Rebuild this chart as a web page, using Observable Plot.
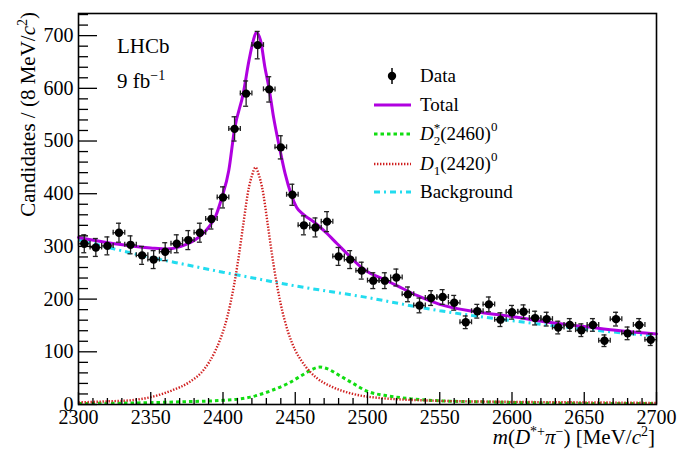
<!DOCTYPE html>
<html><head><meta charset="utf-8">
<script src="https://cdn.jsdelivr.net/npm/d3@7"></script>
<script src="https://cdn.jsdelivr.net/npm/@observablehq/plot@0.6"></script>
<style>body{margin:0;background:#fff} svg{display:block} svg text{font-family:"Liberation Serif",serif}</style>
</head><body><div id="chart"></div>
<script>
// ---- data ----
const binCenters = [2304,2312,2320,2328,2336,2344,2352,2360,2368,2376,2384,2392,2400,2408,2416,2424,2432,2440,2448,2456,2464,2472,2480,2488,2496,2504,2512,2520,2528,2536,2544,2552,2560,2568,2576,2584,2592,2600,2608,2616,2624,2632,2640,2648,2656,2664,2672,2680,2688,2696];
const counts = [305,298,301,326,303,283,275,290,305,312,326,352,393,523,590,682,598,488,398,340,336,347,281,275,254,235,235,241,209,188,202,204,193,156,177,190,161,175,176,164,162,146,151,141,151,121,162,135,151,123];
const errors = [17,17,17,18,17,17,17,17,17,18,18,19,20,23,24,26,24,22,20,18,18,19,17,17,16,15,15,16,14,14,14,14,14,12,13,14,13,13,13,13,13,12,12,12,12,11,13,12,12,11];
const binHalfWidth = 4;

const totalMass = [2300,2325,2350,2361,2371,2380,2390,2395,2399,2404,2408,2414,2418,2421,2423,2426,2429,2432,2435,2439,2443,2447,2451,2456,2464,2471,2479,2487,2495,2500,2511,2520,2535,2550,2575,2600,2625,2650,2675,2700];
const totalVal  = [317,305,297,295,300,311,336,358,391,444,523,590,653,691,706,691,640,598,545,489,438,400,374,360,344,327,305,283,262,252,238,226,206,190,176,167,156,148,140,134];

const d2Mass = [2300,2340,2370,2400,2419,2433,2445,2455,2462,2467,2472,2480,2490,2500,2515,2530,2550,2580,2620,2660,2700];
const d2Val  = [2,3,5,8,14,26,40,56,67,71,68,56,40,25,16,11,7,5,3,2,2];

const d1Mass = [2300,2320,2336,2350,2364,2377,2387,2394,2398,2401,2405,2410,2414,2418,2420,2422.5,2425,2427,2431,2435,2440,2445,2450,2455,2465,2475,2490,2510,2550,2600,2650,2700];
const d1Val  = [4,6,8,14,26,43,67,98,123,147,190,265,341,413,434,450,434,413,341,265,190,138,103,80,50,34,20,12,7,5,4,3];

const bkgMass = [2300,2325,2350,2375,2400,2425,2450,2475,2500,2525,2550,2600,2650,2700];
const bkgVal  = [313,295,279,265,251,238,225,214,203,190,178,159,143,130];

const xTickLabels = [2300,2350,2400,2450,2500,2550,2600,2650,2700];
const yTickLabels = [0,100,200,300,400,500,600,700];
const xMinor = d3.range(2300, 2701, 10).filter(v => v % 50 !== 0);
const yMinor = d3.range(0, 741, 20).filter(v => v % 100 !== 0);

const pts = binCenters.map((m,i) => ({m, n: counts[i], e: errors[i]}));
const toRows = (xs, ys) => xs.map((x,i) => ({x, y: ys[i]}));

const FONT = "Liberation Serif";
const C_TOTAL = "#b000e0", C_D2 = "#11dd11", C_D1 = "#d02020", C_BKG = "#22dcef";
const DA_D2 = "3.5,3", DA_D1 = "1.4,1.6", DA_BKG = "6,4,2,4";
const lineStyle = {curve: "monotone-x", strokeLinecap: "butt", strokeLinejoin: "miter"};

const plot = Plot.plot({
  width: 680, height: 464,
  marginLeft: 78, marginRight: 24, marginTop: 13, marginBottom: 60,
  x: {domain: [2300, 2700]},
  y: {domain: [0, 742]},
  style: {fontFamily: FONT, fontSize: "20px", color: "black", background: "white"},
  marks: [
    Plot.line(toRows(bkgMass, bkgVal), {x: "x", y: "y", stroke: C_BKG, strokeWidth: 3, strokeDasharray: DA_BKG, ...lineStyle}),
    Plot.line(toRows(d2Mass, d2Val), {x: "x", y: "y", stroke: C_D2, strokeWidth: 3, strokeDasharray: DA_D2, ...lineStyle}),
    Plot.line(toRows(d1Mass, d1Val), {x: "x", y: "y", stroke: C_D1, strokeWidth: 2.4, strokeDasharray: DA_D1, ...lineStyle}),
    Plot.line(toRows(totalMass, totalVal), {x: "x", y: "y", stroke: C_TOTAL, strokeWidth: 3, curve: "monotone-x"}),
    // error bars
    Plot.ruleX(pts, {x: "m", y1: d => d.n - d.e, y2: d => d.n + d.e, stroke: "#222", strokeWidth: 1.3}),
    Plot.ruleY(pts, {y: d => d.n + d.e, x1: "m", x2: "m", insetLeft: -2.5, insetRight: -2.5, stroke: "#222", strokeWidth: 1.3}),
    Plot.ruleY(pts, {y: d => d.n - d.e, x1: "m", x2: "m", insetLeft: -2.5, insetRight: -2.5, stroke: "#222", strokeWidth: 1.3}),
    Plot.ruleY(pts, {y: "n", x1: d => d.m - binHalfWidth, x2: d => d.m + binHalfWidth, stroke: "#222", strokeWidth: 1.3}),
    Plot.ruleX(pts, {x: d => d.m - binHalfWidth, y1: "n", y2: "n", insetTop: -2.5, insetBottom: -2.5, stroke: "#222", strokeWidth: 1.3}),
    Plot.ruleX(pts, {x: d => d.m + binHalfWidth, y1: "n", y2: "n", insetTop: -2.5, insetBottom: -2.5, stroke: "#222", strokeWidth: 1.3}),
    Plot.dot(pts, {x: "m", y: "n", r: 4.2, fill: "black", stroke: "none"}),
    // inward ticks
    Plot.ruleY(yMinor, {y: d => d, x1: 2300, x2: 2300, insetRight: -10, stroke: "black", strokeWidth: 1.3}),
    Plot.ruleY(yTickLabels, {y: d => d, x1: 2300, x2: 2300, insetRight: -19, stroke: "black", strokeWidth: 1.3}),
    Plot.ruleX(xMinor, {x: d => d, y1: 0, y2: 0, insetTop: -6, stroke: "black", strokeWidth: 1.3}),
    Plot.ruleX(xTickLabels, {x: d => d, y1: 0, y2: 0, insetTop: -12, stroke: "black", strokeWidth: 1.3}),
    Plot.frame({stroke: "black", strokeWidth: 1.6}),
    Plot.axisX({ticks: xTickLabels, tickSize: 0, tickPadding: 5, tickFormat: d => String(d), label: null, fontFamily: FONT, fontSize: 20}),
    Plot.axisY({ticks: yTickLabels, tickSize: 0, tickPadding: 5, tickFormat: d => String(d), label: null, fontFamily: FONT, fontSize: 20})
  ]
});
document.getElementById("chart").appendChild(plot);

const svg = d3.select(plot);

function richText(x, y, parts, opts = {}) {
  const t = svg.append("text")
    .attr("x", x).attr("y", y)
    .style("font-family", FONT)
    .attr("font-size", opts.size || 20)
    .attr("text-anchor", opts.anchor || "start")
    .attr("fill", "black");
  if (opts.transform) t.attr("transform", opts.transform);
  let cur = 0;
  for (const p of parts) {
    const s = t.append("tspan").text(p.t);
    const shift = p.shift || 0;
    if (shift !== cur) { s.attr("dy", shift - cur); cur = shift; }
    if (p.italic) s.attr("font-style", "italic");
    if (p.size) s.attr("font-size", p.size);
    if (p.dx) s.attr("dx", p.dx);
  }
  return t;
}

// axis titles
richText(0, 0, [
  {t: "Candidates / (8 MeV/"}, {t: "c", italic: true}, {t: "2", shift: -8, size: 14}, {t: ")"}
], {anchor: "end", transform: "translate(35,12) rotate(-90)", size: 21});

richText(655, 444, [
  {t: "m", italic: true}, {t: "("}, {t: "D", italic: true}, {t: "*+", shift: -8, size: 14},
  {t: "π", italic: true}, {t: "−", shift: -8, size: 14}, {t: ") [MeV/"}, {t: "c", italic: true},
  {t: "2", shift: -8, size: 14}, {t: "]"}
], {anchor: "end", size: 21});

// LHCb labels
richText(117, 53, [{t: "LHCb"}], {size: 21});
richText(117, 88, [{t: "9 fb"}, {t: "−1", shift: -8, size: 14}], {size: 21});

// legend
const lx1 = 374, lx2 = 411, tx = 420;
const rows = [82, 111, 140, 170, 198];
svg.append("line").attr("x1", 392).attr("x2", 392).attr("y1", rows[0] - 14).attr("y2", rows[0] + 2).attr("stroke", "black").attr("stroke-width", 1.5);
svg.append("circle").attr("cx", 392).attr("cy", rows[0] - 6).attr("r", 4.2).attr("fill", "black");
richText(tx, rows[0], [{t: "Data"}], {size: 19});

const samples = [
  [rows[1], C_TOTAL, 3, null],
  [rows[2], C_D2, 3, DA_D2],
  [rows[3], C_D1, 2.4, DA_D1],
  [rows[4], C_BKG, 3, DA_BKG]
];
for (const [y, c, w, da] of samples) {
  const l = svg.append("line").attr("x1", lx1).attr("x2", lx2).attr("y1", y - 6).attr("y2", y - 6)
    .attr("stroke", c).attr("stroke-width", w);
  if (da) l.attr("stroke-dasharray", da);
}
richText(tx, rows[1], [{t: "Total"}], {size: 19});
richText(tx, rows[2], [
  {t: "D", italic: true}, {t: "*", shift: -8, size: 13}, {t: "2", shift: 5, size: 13, dx: -6.5},
  {t: "(2460)", shift: 0}, {t: "0", shift: -9, size: 13}
], {size: 19});
richText(tx, rows[3], [
  {t: "D", italic: true}, {t: "1", shift: 5, size: 13},
  {t: "(2420)", shift: 0}, {t: "0", shift: -9, size: 13}
], {size: 19});
richText(tx, rows[4], [{t: "Background"}], {size: 19});
</script>
</body></html>
